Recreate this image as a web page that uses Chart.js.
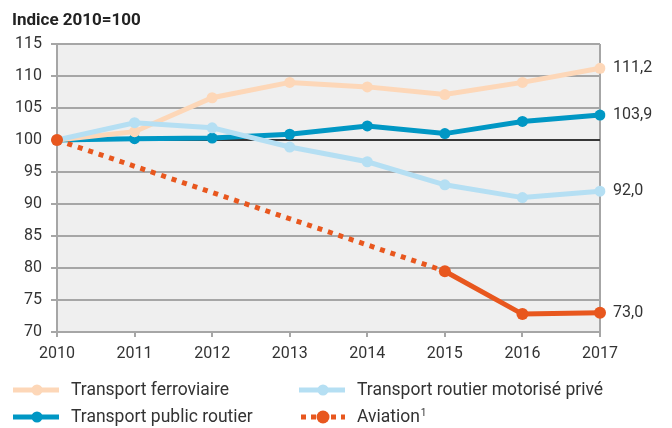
<!DOCTYPE html>
<html>
<head>
<meta charset="utf-8">
<script src="https://cdn.jsdelivr.net/npm/chart.js@4.4.0/dist/chart.umd.min.js"></script>
<style>
  html, body { margin: 0; padding: 0; background: #fff; }
  #wrap { width: 672px; height: 428px; position: relative; }
</style>
</head>
<body>
<div id="wrap"><canvas id="c" width="672" height="428"></canvas></div>
<script>
// données (indice 2010 = 100)
const years = ['2010', '2011', '2012', '2013', '2014', '2015', '2016', '2017'];
const ferroviaire = [100, 101.3, 106.6, 109.0, 108.3, 107.1, 109.0, 111.2];
const publicRoutier = [100, 100.2, 100.3, 100.9, 102.2, 101.0, 102.9, 103.9];
const prive = [100, 102.7, 101.9, 98.9, 96.6, 93.0, 91.0, 92.0];
const aviation = [100, null, null, null, null, 79.5, 72.8, 73.0];
const endLabels = ['111,2', '103,9', '92,0', '73,0'];
const seriesNames = ['Transport ferroviaire', 'Transport routier motorisé privé', 'Transport public routier', 'Aviation'];
const yTicks = { min: 70, max: 115, step: 5 };

const C_FER = '#fdd7b8';
const C_PRIVE = '#b5dff3';
const C_PUB = '#0097c4';
const C_AVI = '#e8571e';
const TXT = '#333';
const FONT = 'Roboto, "Liberation Sans", sans-serif';

Chart.defaults.font.family = FONT;
Chart.defaults.color = TXT;

// fond gris + ligne 100 + bordure droite + titre + étiquettes de fin + légende
const decor = {
    id: 'decor',
    beforeDraw(chart) {
        const { ctx, chartArea: a } = chart;
        ctx.save();
        ctx.fillStyle = '#efefef';
        ctx.fillRect(a.left, a.top, a.right - a.left, a.bottom - a.top);
        ctx.restore();
    },
    beforeDatasetsDraw(chart) {
        const { ctx, chartArea: a, scales } = chart;
        const y100 = scales.y.getPixelForValue(100);
        ctx.save();
        ctx.strokeStyle = '#a6a6a6';
        ctx.lineWidth = 2;
        ctx.beginPath();
        ctx.moveTo(a.right, a.top);
        ctx.lineTo(a.right, a.bottom + 5);
        ctx.stroke();
        ctx.strokeStyle = '#111';
        ctx.lineWidth = 1.5;
        ctx.beginPath();
        ctx.moveTo(a.left, y100);
        ctx.lineTo(a.right, y100);
        ctx.stroke();
        ctx.restore();
    },
    afterDraw(chart) {
        const { ctx, scales } = chart;
        ctx.save();
        // titre
        ctx.fillStyle = '#222';
        ctx.font = 'bold 17px ' + FONT;
        ctx.textBaseline = 'alphabetic';
        ctx.fillText('Indice 2010=100', 12, 25);

        // valeurs 2017
        ctx.font = '16px ' + FONT;
        ctx.fillStyle = TXT;
        ctx.textBaseline = 'middle';
        const last = [ferroviaire, publicRoutier, prive, aviation].map(s => s[s.length - 1]);
        const x = scales.x.getPixelForValue(years.length - 1) + 13;
        last.forEach((v, i) => ctx.fillText(endLabels[i], x, scales.y.getPixelForValue(v)));

        // légende
        const items = [
            { name: seriesNames[0], color: C_FER, x: 13, y: 390 },
            { name: seriesNames[1], color: C_PRIVE, x: 299, y: 390 },
            { name: seriesNames[2], color: C_PUB, x: 13, y: 417 },
            { name: seriesNames[3], color: C_AVI, x: 299, y: 417, dotted: true, sup: '1' }
        ];
        items.forEach(it => {
            ctx.strokeStyle = it.color;
            ctx.fillStyle = it.color;
            ctx.lineWidth = 5;
            ctx.lineCap = 'butt';
            ctx.setLineDash(it.dotted ? [5, 5] : []);
            ctx.beginPath();
            ctx.moveTo(it.x + (it.dotted ? 2 : 0), it.y);
            ctx.lineTo(it.x + 46, it.y);
            ctx.stroke();
            ctx.setLineDash([]);
            ctx.beginPath();
            ctx.arc(it.x + 24, it.y, it.dotted ? 6.5 : 5.5, 0, Math.PI * 2);
            ctx.fill();
            ctx.fillStyle = TXT;
            ctx.font = '17.5px ' + FONT;
            ctx.textBaseline = 'middle';
            ctx.fillText(it.name, it.x + 58, it.y + 1);
            if (it.sup) {
                const w = ctx.measureText(it.name).width;
                ctx.font = '10px ' + FONT;
                ctx.fillText(it.sup, it.x + 59 + w, it.y - 4);
            }
        });
        ctx.restore();
    }
};

function lineDs(label, data, color, order, extra) {
    return Object.assign({
        label, data, order,
        borderColor: color,
        backgroundColor: color,
        pointBackgroundColor: color,
        borderWidth: 5,
        pointRadius: 5.5,
        pointBorderWidth: 0,
        tension: 0,
        fill: false
    }, extra || {});
}

new Chart(document.getElementById('c'), {
    type: 'line',
    data: {
        labels: years,
        datasets: [
            lineDs(seriesNames[3], aviation, C_AVI, 0, {
                spanGaps: true,
                pointRadius: 6,
                borderCapStyle: 'butt',
                segment: {
                    // pointillé sur la période sans données annuelles
                    borderDash: c => (c.p0.skip || c.p1.skip ? [5, 6] : undefined)
                }
            }),
            lineDs(seriesNames[1], prive, C_PRIVE, 1),
            lineDs(seriesNames[0], ferroviaire, C_FER, 2),
            lineDs(seriesNames[2], publicRoutier, C_PUB, 3)
        ]
    },
    options: {
        responsive: false,
        animation: false,
        devicePixelRatio: 1,
        layout: { padding: { left: 0, right: 72, top: 44, bottom: 66 } },
        plugins: {
            legend: { display: false },
            tooltip: { enabled: false }
        },
        scales: {
            x: {
                offset: false,
                grid: { display: true, drawOnChartArea: false, drawTicks: true, tickLength: 5, color: '#a6a6a6', lineWidth: 2 },
                border: { display: true, color: '#a6a6a6', width: 2 },
                ticks: { font: { size: 16 }, color: TXT, padding: 7, maxRotation: 0 },
                afterFit: s => { s.height = 30; }
            },
            y: {
                min: yTicks.min,
                max: yTicks.max,
                grid: { color: '#a6a6a6', lineWidth: 2, tickLength: 6 },
                border: { display: true, color: '#a6a6a6', width: 2 },
                ticks: { stepSize: yTicks.step, font: { size: 16 }, color: TXT, padding: 9 },
                afterFit: s => { s.width = 57; }
            }
        }
    },
    plugins: [decor]
});
</script>
</body>
</html>
